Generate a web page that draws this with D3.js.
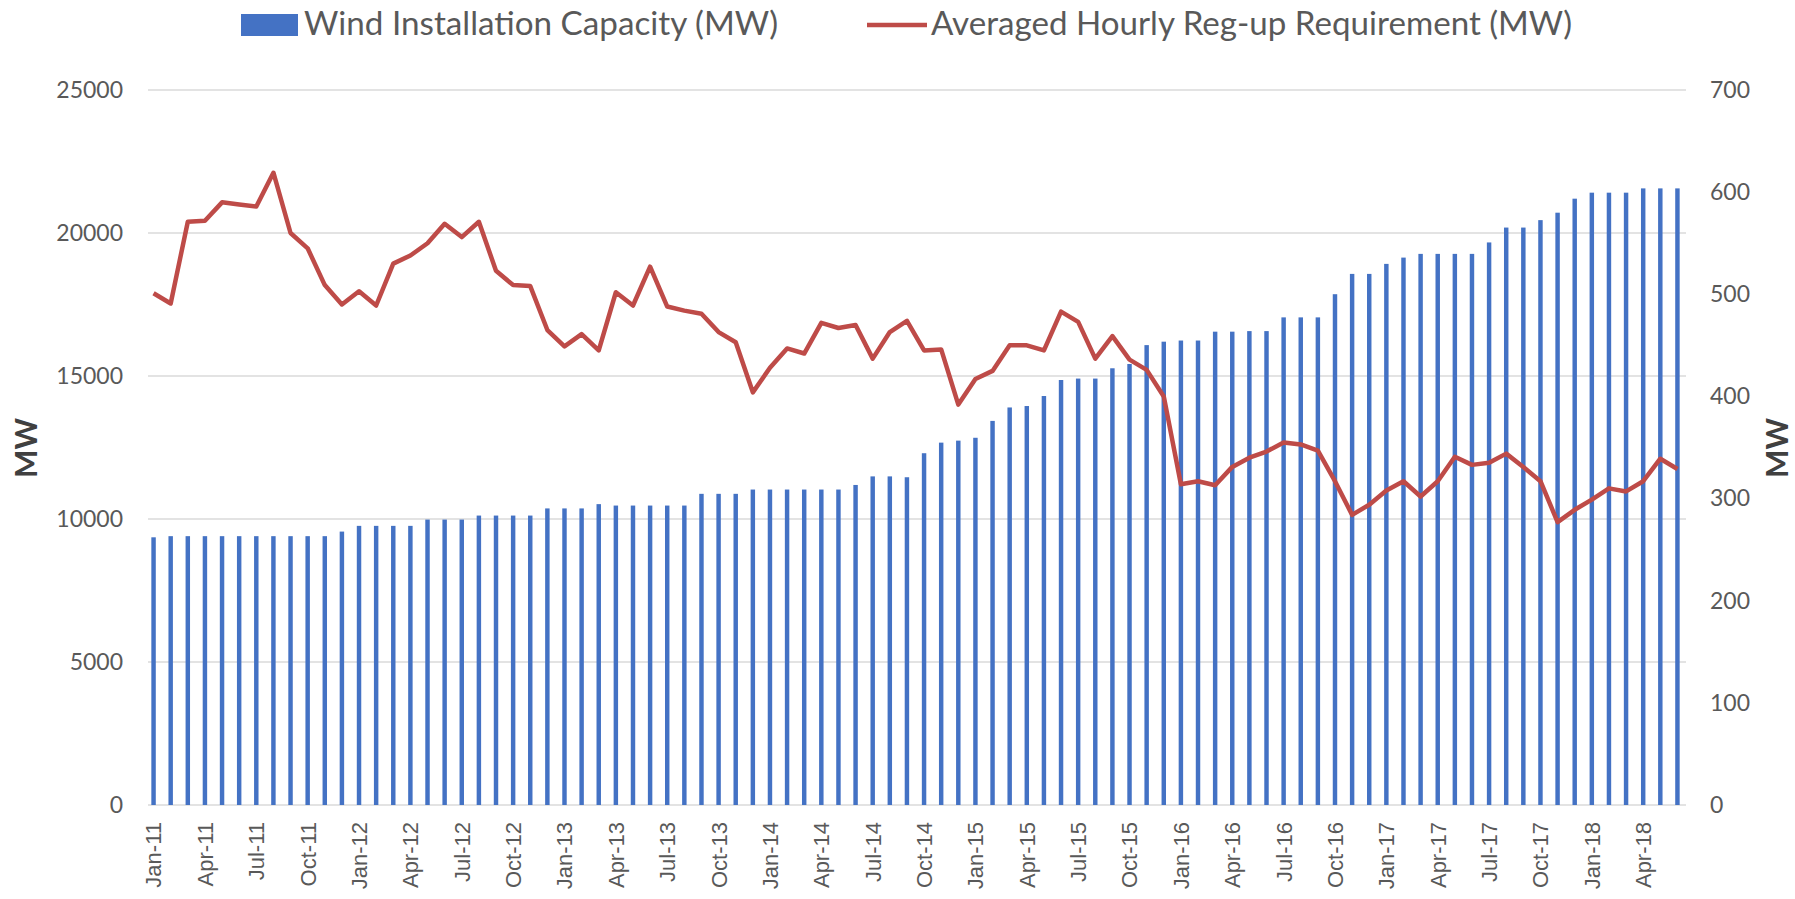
<!DOCTYPE html>
<html>
<head>
<meta charset="utf-8">
<script src="https://cdn.jsdelivr.net/npm/d3@7"></script>
<style>
  body { margin: 0; background: #fff; }
  svg { display: block; }
</style>
</head>
<body>
<div id="chart"></div>
<script>
// months Jan-11 .. Jun-18
const months = d3.timeMonth.range(new Date(2011, 0, 1), new Date(2018, 6, 1));
const fmtMonth = d3.timeFormat("%b-%y");

// Wind Installation Capacity (MW), left axis
const capacity = [
  9360, 9400, 9400, 9400, 9400, 9400, 9400, 9400, 9400, 9400, 9400, 9560,
  9760, 9760, 9760, 9760, 9980, 9980, 9980, 10120, 10120, 10120, 10120, 10370,
  10370, 10370, 10520, 10470, 10470, 10470, 10470, 10470, 10880, 10880, 10880, 11030,
  11030, 11030, 11030, 11030, 11030, 11190, 11490, 11490, 11460, 12300, 12670, 12740,
  12840, 13430, 13900, 13950, 14300, 14860, 14910, 14910, 15270, 15420, 16080, 16200,
  16240, 16240, 16550, 16550, 16570, 16570, 17050, 17050, 17050, 17860, 18570, 18570,
  18920, 19140, 19270, 19270, 19270, 19270, 19670, 20190, 20190, 20450, 20710, 21200,
  21410, 21410, 21410, 21560, 21560, 21560
];

// Averaged Hourly Reg-up Requirement (MW), right axis
const regUp = [
  501, 491, 571, 572, 590, 588, 586, 619, 560, 545, 509, 490,
  503, 489, 530, 538, 550, 569, 556, 571, 523, 509, 508, 465,
  449, 461, 445, 502, 489, 527, 488, 484, 481, 463, 453, 404,
  428, 447, 442, 472, 467, 470, 437, 463, 474, 445, 446, 392,
  417, 425, 450, 450, 445, 483, 473, 437, 459, 436, 426, 400,
  314, 317, 313, 331, 340, 346, 355, 353, 347, 317, 284, 294,
  308, 317, 302, 317, 341, 333, 335, 344, 331, 317, 277, 289,
  299, 310, 307, 317, 339, 329
];

const leftTicks = [0, 5000, 10000, 15000, 20000, 25000];
const rightTicks = [0, 100, 200, 300, 400, 500, 600, 700];

const width = 1795, height = 899;
const plot = { left: 145, right: 1686, top: 90, bottom: 805 };

const svg = d3.select("#chart").append("svg")
  .attr("width", width)
  .attr("height", height);

const x = d3.scaleBand()
  .domain(months.map((d, i) => i))
  .range([plot.left, plot.right])
  .paddingInner(0.74)
  .paddingOuter(0.37);

const yLeft = d3.scaleLinear().domain([0, 25000]).range([plot.bottom, plot.top]);
const yRight = d3.scaleLinear().domain([0, 700]).range([plot.bottom, plot.top]);

// gridlines
svg.append("g")
  .selectAll("line")
  .data(leftTicks)
  .join("line")
  .attr("x1", plot.left + 3)
  .attr("x2", plot.right)
  .attr("y1", d => yLeft(d))
  .attr("y2", d => yLeft(d))
  .attr("stroke", "#e3e3e3")
  .attr("stroke-width", 2);

// bars
svg.append("g")
  .selectAll("rect")
  .data(capacity)
  .join("rect")
  .attr("x", (d, i) => x(i))
  .attr("width", x.bandwidth())
  .attr("y", d => yLeft(d))
  .attr("height", d => yLeft(0) - yLeft(d))
  .attr("fill", "#4472c4");

// reg-up line
const line = d3.line()
  .x((d, i) => x(i) + x.bandwidth() / 2)
  .y(d => yRight(d));

svg.append("path")
  .datum(regUp)
  .attr("d", line)
  .attr("fill", "none")
  .attr("stroke", "#be4b48")
  .attr("stroke-width", 4.5)
  .attr("stroke-linejoin", "round");

// axes
const tickFont = "Lato, 'Open Sans', sans-serif";

const gLeft = svg.append("g")
  .attr("transform", `translate(${plot.left},0)`)
  .call(d3.axisLeft(yLeft).tickValues(leftTicks).tickSize(0).tickPadding(22).tickFormat(d3.format("d")));

const gRight = svg.append("g")
  .attr("transform", `translate(${plot.right},0)`)
  .call(d3.axisRight(yRight).tickValues(rightTicks).tickSize(0).tickPadding(24).tickFormat(d3.format("d")));

[gLeft, gRight].forEach(g => {
  g.select(".domain").remove();
  g.selectAll("text")
    .attr("font-family", tickFont)
    .attr("font-size", 23)
    .attr("fill", "#595959");
});

const gx = svg.append("g")
  .attr("transform", `translate(0,${plot.bottom})`)
  .call(d3.axisBottom(x)
    .tickValues(months.map((d, i) => i).filter(i => i % 3 === 0))
    .tickSize(0)
    .tickFormat(i => fmtMonth(months[i])));

gx.select(".domain").remove();
gx.selectAll("text")
  .attr("transform", "rotate(-90)")
  .attr("text-anchor", "end")
  .attr("x", -17)
  .attr("y", 0)
  .attr("dy", "0.36em")
  .attr("font-family", "'Liberation Sans', Arial, sans-serif")
  .attr("font-size", 22)
  .attr("fill", "#595959");

// axis titles
svg.append("text")
  .attr("transform", "translate(37,448) rotate(-90)")
  .attr("text-anchor", "middle")
  .attr("font-family", tickFont)
  .attr("font-weight", "bold")
  .attr("font-size", 30)
  .attr("fill", "#404040")
  .text("MW");

svg.append("text")
  .attr("transform", "translate(1788,448) rotate(-90)")
  .attr("text-anchor", "middle")
  .attr("font-family", tickFont)
  .attr("font-weight", "bold")
  .attr("font-size", 30)
  .attr("fill", "#404040")
  .text("MW");

// legend
const legend = svg.append("g");

legend.append("rect")
  .attr("x", 241).attr("y", 14)
  .attr("width", 57).attr("height", 22)
  .attr("fill", "#4472c4");

legend.append("text")
  .attr("x", 304).attr("y", 35)
  .attr("font-family", tickFont)
  .attr("font-size", 32)
  .attr("fill", "#595959")
  .attr("textLength", 474)
  .attr("lengthAdjust", "spacingAndGlyphs")
  .text("Wind Installation Capacity (MW)");

legend.append("line")
  .attr("x1", 867).attr("x2", 927)
  .attr("y1", 25).attr("y2", 25)
  .attr("stroke", "#be4b48")
  .attr("stroke-width", 4.5);

legend.append("text")
  .attr("x", 931).attr("y", 35)
  .attr("font-family", tickFont)
  .attr("font-size", 32)
  .attr("fill", "#595959")
  .attr("textLength", 641)
  .attr("lengthAdjust", "spacingAndGlyphs")
  .text("Averaged Hourly Reg-up Requirement (MW)");
</script>
</body>
</html>
